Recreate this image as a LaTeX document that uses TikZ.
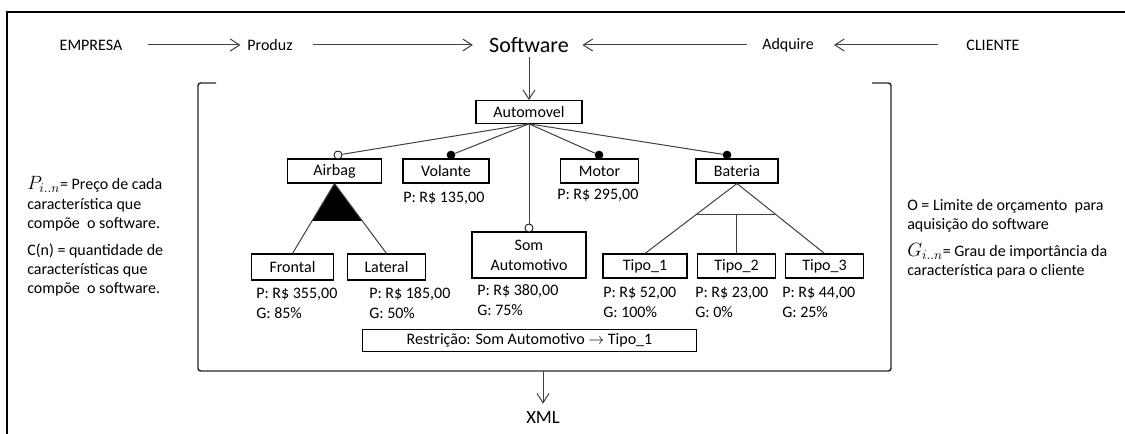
\documentclass[tikz,border=0pt]{standalone}
\usepackage{fontspec}
\setmainfont{Carlito}
\usetikzlibrary{arrows.meta,calc}

\begin{document}
\begin{tikzpicture}[x=0.75pt,y=-0.75pt,font=\fontsize{12}{14.5}\selectfont]
        \tikzstyle{feature}=[draw,line width=0.8pt,inner sep=0pt,minimum height=18pt]
        \tikzstyle{word}=[inner sep=0pt]
        \tikzstyle{price}=[inner sep=0pt,anchor=west,align=left,font=\fontsize{12}{15}\selectfont]
        \tikzstyle{note}=[inner sep=0pt,anchor=west,align=left,font=\fontsize{12}{14.5}\selectfont]
        \tikzstyle{link}=[draw=black!75,line width=0.75pt]
        \tikzstyle{flow}=[link,-{Straight Barb[length=7pt,width=9pt]}]
        \tikzstyle{optional}=[circle,draw,fill=white,line width=0.6pt,minimum size=6pt,inner sep=0pt]
        \tikzstyle{mandatory}=[circle,fill=black,minimum size=6.5pt,inner sep=0pt]
        \newcommand{\symb}[1]{{\fontsize{14}{14.5}\selectfont$#1_{i..n}$}}
        \useasboundingbox (0,0) rectangle (1125,434);
        \draw[line width=1.1pt] (1125,12) -- (7,12) -- (7,434);
        % top row
        \node[word] (empresa) at (91,45) {EMPRESA};
        \node[word] (produz) at (270,45) {Produz};
        \node[word,font=\fontsize{16.5}{18}\selectfont] (software) at (529,45) {Software};
        \node[word] (adquire) at (788,45) {Adquire};
        \node[word] (cliente) at (993,45) {CLIENTE};
        \draw[flow,shorten <=19pt,shorten >=5pt] (empresa) -- (produz);
        \draw[flow,shorten <=15pt,shorten >=12pt] (produz) -- (software);
        \draw[flow,shorten <=11pt,shorten >=10pt] (adquire) -- (software);
        \draw[flow,shorten <=21pt,shorten >=15pt] (cliente) -- (adquire);
        % feature model
        \node[feature,minimum width=79.5pt,minimum height=17pt] (automovel) at (529,112) {Automovel};
        \draw[flow,shorten <=3pt] (software) -- (automovel);
        \node[feature,minimum width=71pt] (airbag) at (334.5,171) {Airbag};
        \node[feature,minimum width=64.5pt] (volante) at (446,171) {Volante};
        \node[feature,minimum width=58pt] (motor) at (599.5,171) {Motor};
        \node[feature,minimum width=61.5pt] (bateria) at (737,171) {Bateria};
        \node[feature,minimum width=85.5pt,minimum height=34.5pt,align=center,font=\fontsize{12}{15}\selectfont] (som) at (529,255) {Som\\Automotivo};
        \node[feature,minimum width=61pt,minimum height=19.5pt] (frontal) at (292.5,267) {Frontal};
        \node[feature,minimum width=59pt,minimum height=19.5pt] (lateral) at (386.5,267) {Lateral};
        \node[feature,minimum width=63pt] (tipo1) at (645,266) {Tipo\_1};
        \node[feature,minimum width=59pt] (tipo2) at (736.5,266) {Tipo\_2};
        \node[feature,minimum width=59pt] (tipo3) at (824.5,266) {Tipo\_3};
        \node[optional] (oAirbag) at (338,155) {};
        \node[mandatory] (mVolante) at (451,155) {};
        \node[optional] (oSom) at (529,228) {};
        \node[mandatory] (mMotor) at (599,155) {};
        \node[mandatory] (mBateria) at (727,155) {};
        \foreach \c in {oAirbag,mVolante,oSom,mMotor,mBateria}
          \draw[link] (automovel.south) -- (\c);
        % alternative group under Airbag
        \fill (airbag.south) -- ($(airbag.south)!0.535!(frontal.north)$) -- ($(airbag.south)!0.535!(lateral.north)$) -- cycle;
        \draw[link] (airbag.south) -- (frontal.north);
        \draw[link] (airbag.south) -- (lateral.north);
        % or group under Bateria
        \coordinate (barL) at ($(bateria.south)!0.437!(tipo1.north)$);
        \coordinate (barR) at ($(bateria.south)!0.437!(tipo3.north)$);
        \draw[link] (bateria.south) -- (tipo1.north);
        \draw[link] (bateria.south) -- (tipo3.north);
        \draw[link] (barL) -- (barR);
        \draw[link] (tipo2.north) -- (tipo2.north |- barL);
        % prices and grades
        \node[price] (pVolante) at (403,198) {P: R\$ 135,00};
        \node[price] (pMotor) at (557,195) {P: R\$ 295,00};
        \node[price] (pFrontal) at (256,303) {P: R\$ 355,00\\G: 85\%};
        \node[price] (pLateral) at (369,303) {P: R\$ 185,00\\G: 50\%};
        \node[price] (pSom) at (477,300) {P: R\$ 380,00\\G: 75\%};
        \node[price] (pTipo1) at (603,302) {P: R\$ 52,00\\G: 100\%};
        \node[price] (pTipo2) at (695,302) {P: R\$ 23,00\\G: 0\%};
        \node[price] (pTipo3) at (782,302) {P: R\$ 44,00\\G: 25\%};
        \node[feature,minimum width=251pt,minimum height=17pt] (restricao) at (529.5,340.5) {Restrição: Som Automotivo $\rightarrow$ Tipo\_1};
        \draw[line width=1.1pt,draw=black!85,rounded corners=2pt] (216,83) -- (198,83) -- (198,371) -- (891,371) -- (891,83) -- (872,83);
        % output
        \node[word,font=\fontsize{14}{16}\selectfont] (xml) at (543,418) {XML};
        \coordinate (base) at (543,371);
        \draw[flow,shorten >=6pt] (base) -- (xml);
        % side notes
        \node[note] (pNote) at (27,204) {\symb{P}= Preço de cada\\característica que\\compõe\ \ o software.};
        \node[note] (cNote) at (27,270) {C(n) = quantidade de\\características que\\compõe\ \ o software.};
        \node[note] (oNote) at (907,216) {O = Limite de orçamento\ \ para\\aquisição do software};
        \node[note] (gNote) at (907,261) {\symb{G}= Grau de importância da\\característica para o cliente};
\end{tikzpicture}
\end{document}
